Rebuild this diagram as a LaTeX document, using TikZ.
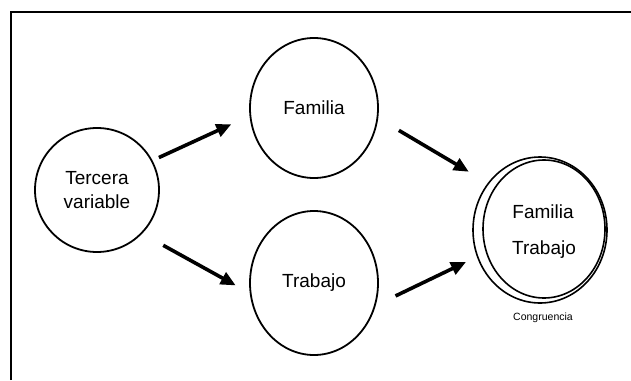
\documentclass[tikz,border=0pt]{standalone}
\usepackage{fontspec}
\setmainfont{Liberation Sans}
\usetikzlibrary{shapes.geometric,arrows.meta}
\begin{document}
\begin{tikzpicture}[x=1pt,y=-1pt,
  oval/.style={ellipse,draw,line width=1.8pt,inner sep=0pt},
  txt/.style={font=\fontsize{19}{24}\selectfont,align=center},
  flow/.style={line width=3.6pt,-{Triangle[length=15pt,width=13pt]}}]
  \useasboundingbox (0,0) rectangle (631,380);
  % frame
  \draw[line width=1.5pt] (11,380) -- (11,12) -- (631,12);
  % variables
  \node[oval,minimum width=124pt,minimum height=124pt,txt] (tv) at (97,190) {Tercera\\variable};
  \node[oval,minimum width=128pt,minimum height=140pt,txt] (fam) at (314,108) {Familia};
  \node[oval,minimum width=128pt,minimum height=144pt,txt] (trab) at (314,283) {Trabajo};
  % congruence: two overlapping rings
  \node[oval,line width=1.6pt,minimum width=134pt,minimum height=146pt] (cong) at (540,230) {};
  \node[oval,line width=1.6pt,minimum width=122pt,minimum height=138pt] (congin) at (544,229) {};
  \node[txt] (cfam) at (543,212) {Familia};
  \node[txt] (ctrab) at (544,250) {Trabajo};
  \node[font=\fontsize{10.5}{12}\selectfont] (clab) at (543,318) {Congruencia};
  % arrows
  \draw[flow,shorten <=7pt,shorten >=20pt] (tv.28) -- (fam.187);
  \draw[flow,shorten <=24pt,shorten >=16pt] (tv.316) -- (trab.189);
  \draw[flow,shorten <=24pt,shorten >=22pt] (fam.351) -- (cong.138);
  \draw[flow,shorten <=22pt,shorten >=12pt] (trab.340) -- (cong.203);
\end{tikzpicture}
\end{document}
